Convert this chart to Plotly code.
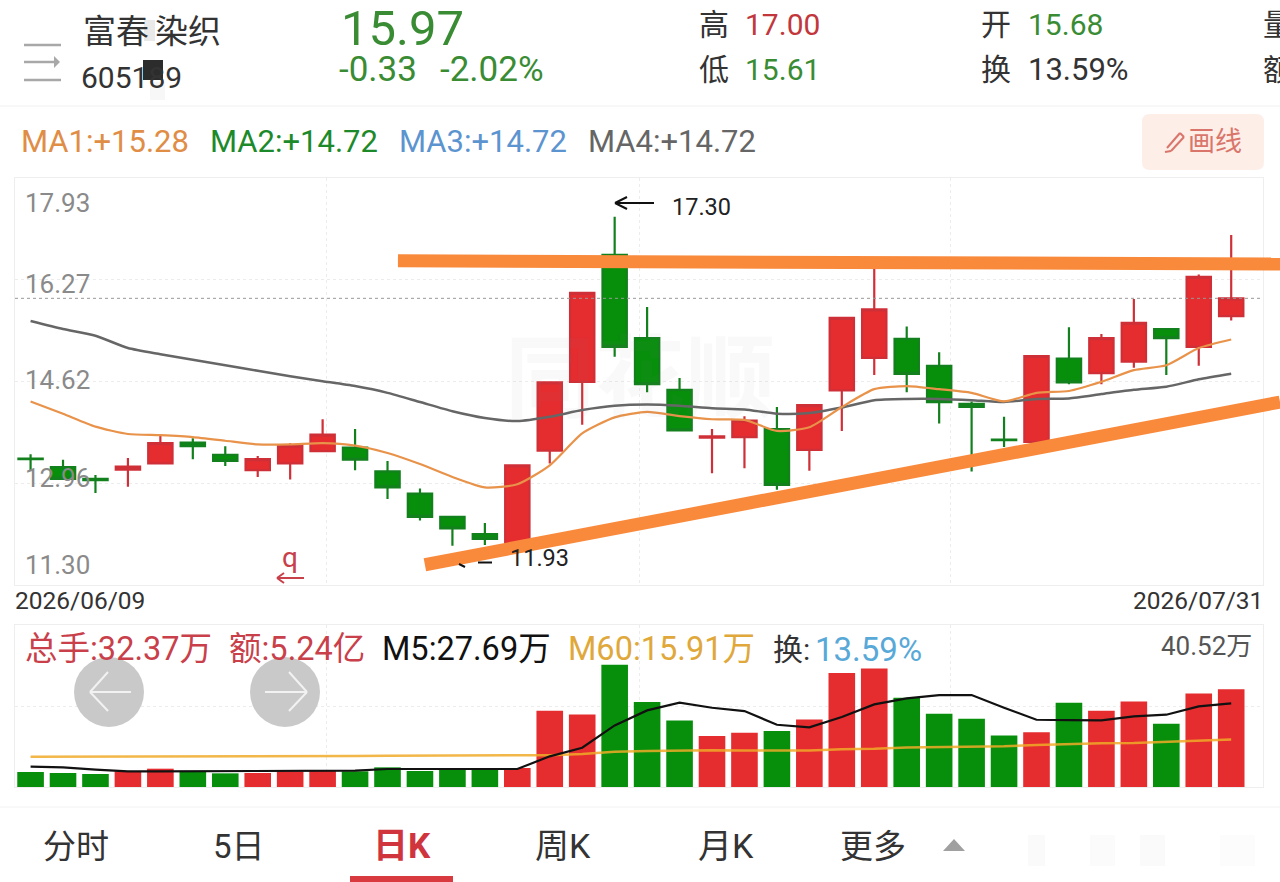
import plotly.graph_objects as go

W, H = 1280, 882

open_ = [13.36,13.22,13.03,13.18,13.28,13.62,13.42,13.17,13.28,13.48,13.54,13.15,12.79,12.41,12.13,11.98,13.49,14.61,16.68,15.32,14.48,13.70,13.71,13.84,13.50,14.47,15.00,15.31,14.87,14.25,13.67,13.63,14.99,14.75,14.94,15.47,15.18,15.68]
high_ = [13.43,13.34,13.09,13.37,13.73,13.69,13.56,13.40,13.61,14.00,13.84,13.32,12.87,12.41,12.31,13.25,14.60,16.06,17.30,15.83,14.67,13.84,14.05,14.20,14.23,15.65,16.45,15.51,15.09,14.29,14.04,15.03,15.50,15.39,15.96,15.47,16.36,17.00]
low_ = [13.17,13.03,12.80,12.90,13.28,13.35,13.24,13.06,13.02,13.48,13.17,12.70,12.35,11.94,11.95,11.93,13.28,13.91,15.02,14.44,13.82,13.12,13.20,12.85,13.16,13.81,14.72,14.44,13.93,13.15,13.55,13.63,14.57,14.57,14.84,14.72,14.87,15.61]
close_ = [13.35,13.03,13.01,13.23,13.61,13.56,13.32,13.35,13.57,13.75,13.34,12.89,12.41,12.22,12.05,13.25,14.60,16.06,15.18,14.57,13.82,13.72,13.98,12.93,14.23,15.65,15.79,14.74,14.28,14.20,13.66,15.03,14.60,15.32,15.57,15.32,16.32,15.97]
ma1 = [14.29,14.09,13.88,13.76,13.74,13.71,13.65,13.59,13.59,13.61,13.57,13.45,13.27,13.06,12.89,12.94,13.25,13.77,14.03,14.12,14.05,14.00,13.99,13.81,13.87,14.20,14.49,14.54,14.49,14.43,14.29,14.43,14.46,14.61,14.80,14.88,15.16,15.30]
ma4 = [15.60,15.47,15.36,15.16,15.06,14.97,14.88,14.79,14.70,14.62,14.54,14.43,14.28,14.13,14.02,13.97,14.04,14.15,14.22,14.24,14.22,14.18,14.16,14.09,14.10,14.19,14.31,14.33,14.33,14.31,14.28,14.33,14.34,14.41,14.48,14.53,14.65,14.74]
volume = [4.97,4.64,4.31,5.19,6.07,5.19,4.53,4.64,5.19,5.30,5.19,6.51,5.30,5.74,5.74,6.29,25.28,24.07,40.52,28.15,22.08,16.89,18.00,18.55,22.41,37.76,39.30,29.59,24.29,22.63,17.11,18.11,27.93,25.28,28.37,20.98,31.02,32.37]
m5 = [6.73,6.51,5.74,5.19,5.19,5.19,5.19,5.30,5.41,5.41,5.41,5.96,5.96,5.96,5.96,5.96,10.16,13.03,20.42,25.39,27.93,26.28,25.17,20.64,19.76,23.18,27.38,29.37,30.47,30.47,26.28,22.30,22.19,22.08,23.40,23.96,26.72,27.69]
m60 = [10.05,10.05,10.08,10.10,10.12,10.15,10.15,10.18,10.20,10.22,10.25,10.35,10.38,10.40,10.42,10.45,10.55,10.90,11.70,11.90,12.14,12.20,12.10,12.10,12.10,12.55,12.70,13.10,13.25,13.30,13.50,13.90,14.30,14.50,14.60,15.00,15.40,15.75]
trend_top_x = [11.32, 38.5]
trend_top_y = [16.58, 16.53]
trend_low_x = [12.15, 38.5]
trend_low_y = [11.63, 14.28]
price_ticks = ["17.93", "16.27", "14.62", "12.96", "11.30"]
dates = ["2026/06/09", "2026/07/31"]

idx = list(range(len(open_)))
RED, GREEN = "#e52c2f", "#078f0c"
ORANGE = "#f98a3c"
CJK = "Roboto, 'Noto Sans CJK SC', sans-serif"


def px(x):
    return x / W


def py(y):
    return 1 - y / H


fig = go.Figure()
fig.add_trace(go.Candlestick(
    x=idx, open=open_, high=high_, low=low_, close=close_,
    increasing=dict(line=dict(color="#cf3038", width=2.2), fillcolor=RED),
    decreasing=dict(line=dict(color="#12801c", width=2.2), fillcolor=GREEN),
    whiskerwidth=0, showlegend=False, hoverinfo="skip"))
fig.add_trace(go.Scatter(x=idx, y=ma4, mode="lines", line=dict(color="#666666", width=2.5, shape="spline", smoothing=0.6), showlegend=False))
fig.add_trace(go.Scatter(x=idx, y=ma1, mode="lines", line=dict(color="#e8924a", width=2.2, shape="spline", smoothing=0.6), showlegend=False))
fig.add_trace(go.Scatter(x=trend_top_x, y=trend_top_y, xaxis="x3", yaxis="y3", mode="lines", line=dict(color=ORANGE, width=13), showlegend=False))
fig.add_trace(go.Scatter(x=trend_low_x, y=trend_low_y, xaxis="x3", yaxis="y3", mode="lines", line=dict(color=ORANGE, width=13), showlegend=False))

fig.add_trace(go.Bar(x=idx, y=volume, width=0.82, xaxis="x2", yaxis="y2",
                     marker=dict(color=[RED if c >= o else GREEN for o, c in zip(open_, close_)], line_width=0),
                     showlegend=False))
fig.add_trace(go.Scatter(x=idx, y=m60, xaxis="x2", yaxis="y2", mode="lines",
                         line=dict(color="rgba(240,170,40,0.85)", width=2.5), showlegend=False))
fig.add_trace(go.Scatter(x=idx, y=m5, xaxis="x2", yaxis="y2", mode="lines",
                         line=dict(color="#111111", width=2.2), showlegend=False))

GRID = "#ececec"
x_range = [-0.48, 37.98]
x_grid = [9.13, 18.75, 28.36]
common_x = dict(range=x_range, tickvals=x_grid, ticks="", showticklabels=False, showgrid=True, gridcolor=GRID,
                griddash="dot", gridwidth=1, zeroline=False, showline=True, linecolor="#eeeeee", mirror=True,
                rangeslider=dict(visible=False))
common_y = dict(ticks="", showticklabels=False, showgrid=True, gridcolor=GRID, griddash="dot", zeroline=False,
                showline=True, linecolor="#eeeeee", mirror=True)

shapes = []


def line(x0, y0, x1, y1, color, width=2, dash=None):
    shapes.append(dict(type="line", xref="paper", yref="paper", x0=px(x0), y0=py(y0), x1=px(x1), y1=py(y1),
                       line=dict(color=color, width=width, dash=dash or "solid")))


def poly(path, color, layer="above"):
    shapes.append(dict(type="path", xref="paper", yref="paper", layer=layer,
                       path="M " + " L ".join(f"{px(a):.5f},{py(b):.5f}" for a, b in path) + " Z",
                       fillcolor=color, line=dict(width=0)))


def rect(x0, y0, x1, y1, color):
    shapes.append(dict(type="rect", xref="paper", yref="paper", x0=px(x0), y0=py(y0), x1=px(x1), y1=py(y1),
                       fillcolor=color, line=dict(width=0)))


def circle(cx, cy, r, color):
    shapes.append(dict(type="circle", xref="paper", yref="paper", x0=px(cx - r), y0=py(cy - r), x1=px(cx + r), y1=py(cy + r),
                       fillcolor=color, line=dict(width=0)))


# current price line
shapes.append(dict(type="line", xref="x", yref="y", x0=x_range[0], x1=x_range[1], y0=close_[-1], y1=close_[-1],
                   line=dict(color="#999999", width=1, dash="3px,3px")))
# header / dividers
line(24, 45, 61, 45, "#a8a8a8", 2.5)
line(24, 62, 54, 62, "#a8a8a8", 2.5)
line(24, 80, 61, 80, "#a8a8a8", 2.5)
poly([(54, 56), (60, 62), (54, 68)], "#a8a8a8")
line(0, 106, W, 106, "#f0f0f0", 1)
line(0, 807, W, 807, "#f2f2f2", 1)
rect(144, 20, 155, 41, "#e9e9e9")
rect(150, 82, 165, 100, "#f7f7f7")
# draw tool button
shapes.append(dict(type="path", xref="paper", yref="paper", fillcolor="#fdeee8", line=dict(width=0),
                   path=f"M {px(1150)},{py(114)} L {px(1256)},{py(114)} Q {px(1264)},{py(114)} {px(1264)},{py(122)} "
                        f"L {px(1264)},{py(162)} Q {px(1264)},{py(170)} {px(1256)},{py(170)} L {px(1150)},{py(170)} "
                        f"Q {px(1142)},{py(170)} {px(1142)},{py(162)} L {px(1142)},{py(122)} Q {px(1142)},{py(114)} {px(1150)},{py(114)} Z"))
line(1167, 148, 1180, 133, "#d9756a", 2)
line(1180, 133, 1184, 137, "#d9756a", 2)
line(1184, 137, 1171, 151, "#d9756a", 2)
line(1171, 151, 1165, 152, "#d9756a", 2)
# drawn arrows
line(654, 203, 615, 203, "#111111", 2)
line(615, 203, 627, 197, "#111111", 2)
line(615, 203, 627, 209, "#111111", 2)
line(277, 578, 304, 578, "#c8404a", 2)
line(277, 578, 284, 573, "#c8404a", 2)
line(277, 578, 284, 583, "#c8404a", 2)
line(459, 564, 465, 567, "#111111", 2)
line(478, 562.5, 492, 562.5, "#111111", 2)
# nav circles
circle(109, 692, 35, "#c9c9c9")
circle(285, 692, 35, "#c9c9c9")
line(90, 692, 131, 692, "#f2f2f2", 2)
line(90, 692, 108, 672, "#f2f2f2", 2)
line(90, 692, 108, 711, "#f2f2f2", 2)
line(265, 692, 307, 692, "#f2f2f2", 2)
line(307, 692, 289, 672, "#f2f2f2", 2)
line(307, 692, 289, 711, "#f2f2f2", 2)
# tab bar
rect(350, 876, 453, 882, "#d93a40")
poly([(943, 851), (954, 839), (965, 851)], "#a0a0a0")
rect(1028, 835, 1045, 866, "#fafafa")
rect(1090, 835, 1115, 866, "#fbfbfb")
rect(1140, 835, 1165, 866, "#fafafa")
rect(1220, 835, 1255, 866, "#fcfcfc")

ann = []


def txt(x, y, s, size, color, anchor="left", family=CJK, bold=False):
    if bold:
        s = f"<b>{s}</b>"
    ann.append(dict(x=px(x), y=py(y), xref="paper", yref="paper", text=s, showarrow=False, xanchor=anchor,
                    yanchor="middle", font=dict(size=size, color=color, family=family), borderpad=0, borderwidth=0))


DARK = "#333333"
DG = "#3a8c34"
DR = "#c2373c"
txt(83, 31, "富春", 33, DARK)
txt(155, 31, "染织", 33, DARK)
txt(81, 78, "605189", 30, DARK)
txt(341, 28, "15.97", 49, DG)
txt(339, 70, "-0.33", 35, DG)
txt(440, 70, "-2.02%", 35, DG)
txt(699, 25, "高", 30, DARK)
txt(745, 25, "17.00", 30, DR)
txt(699, 70, "低", 30, DARK)
txt(745, 70, "15.61", 30, DG)
txt(981, 25, "开", 30, DARK)
txt(1028, 25, "15.68", 30, DG)
txt(981, 70, "换", 30, DARK)
txt(1028, 70, "13.59%", 31, DARK)
txt(1263, 25, "量", 30, DARK)
txt(1263, 70, "额", 30, DARK)
txt(21, 141, "MA1:+15.28", 31, "#e08d46")
txt(210, 141, "MA2:+14.72", 31, "#1c8a2a")
txt(399, 141, "MA3:+14.72", 31, "#5c94d0")
txt(588, 141, "MA4:+14.72", 31, "#666666")
txt(1188, 142, "画线", 27, "#d9756a")
for lab, yy in zip(price_ticks, [203, 284, 380, 478, 565]):
    txt(25, yy, lab, 26, "#8a8a8a")
txt(672, 207, "17.30", 23.5, "#222222")
txt(510, 558, "11.93", 23.5, "#222222")
txt(290, 557, "q", 28, "#c8404a", anchor="center")
txt(15, 600, dates[0], 24.5, DARK)
txt(1263, 600, dates[1], 24.5, DARK, anchor="right")
txt(505, 380, "同花顺", 90, "rgba(130,130,130,0.05)", bold=True)
txt(25, 649, "总手:32.37万", 32.5, "#c9404a")
txt(229, 649, "额:5.24亿", 32.5, "#c9404a")
txt(382, 649, "M5:27.69万", 32.5, "#111111")
txt(568, 649, "M60:15.91万", 32.5, "#e0a83a")
txt(773, 649, "换:", 30, DARK)
txt(815, 649, "13.59%", 33, "#58a9d8")
txt(1252, 646, "40.52万", 26, "#555555", anchor="right")
txt(43, 846, "分时", 33, DARK)
txt(213, 846, "5日", 33, DARK)
txt(373, 846, "日K", 35, "#d0343c", bold=True)
txt(535, 846, "周K", 34, DARK)
txt(698, 846, "月K", 34, DARK)
txt(840, 846, "更多", 33, DARK)
rect(143, 60, 163, 80, "#2c2c2c")

fig.update_layout(
    width=W, height=H, margin=dict(l=0, r=0, t=0, b=0), paper_bgcolor="white", plot_bgcolor="rgba(0,0,0,0)",
    boxgap=0.25, boxgroupgap=0, dragmode=False, hovermode=False, showlegend=False,
    xaxis=dict(common_x, domain=[px(15), px(1263)]),
    yaxis=dict(common_y, domain=[py(585), py(178)], range=[11.30, 17.93], tickvals=[12.96, 14.62, 16.27]),
    xaxis2=dict(common_x, domain=[px(15), px(1263)], anchor="y2"),
    yaxis2=dict(common_y, domain=[py(787), py(625)], range=[0, 53.7], tickvals=[26.85], anchor="x2"),
    xaxis3=dict(domain=[0, 1], range=[-0.943, 38.5], visible=False, anchor="y3"),
    yaxis3=dict(domain=[py(585), py(178)], range=[11.30, 17.93], visible=False, anchor="x3"),
    shapes=shapes, annotations=ann,
)
fig.write_html("out.html", post_script="document.body.style.margin='0';", config={"displayModeBar": False})
